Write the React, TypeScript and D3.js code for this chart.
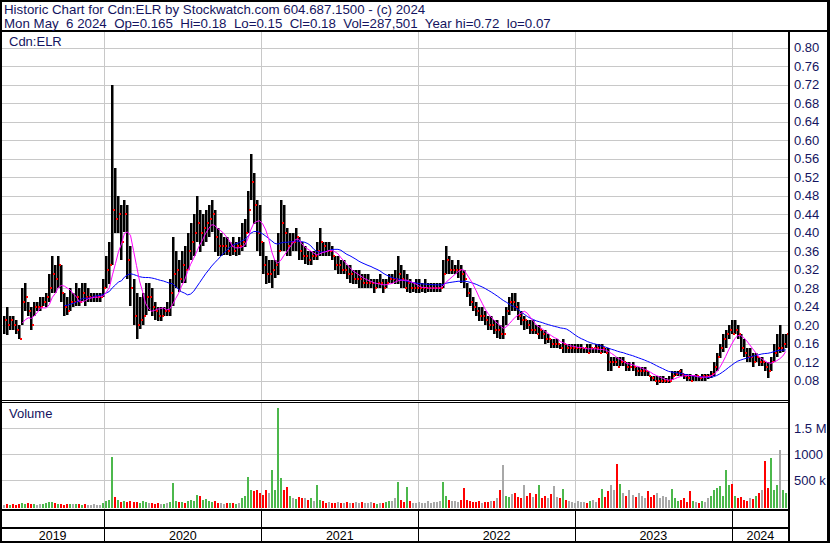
import React from "react";
import * as d3 from "d3";

const W = 830;
const H = 543;

const title = "Historic Chart for Cdn:ELR by Stockwatch.com 604.687.1500 - (c) 2024";
const quote = "Mon May  6 2024  Op=0.165  Hi=0.18  Lo=0.15  Cl=0.18  Vol=287,501  Year hi=0.72  lo=0.07";
const symbol = "Cdn:ELR";

// last trading day on the chart, bars are weekly going back from it
const lastDay = new Date(2024, 4, 6);

// weekly high / low / close, oldest first
const highs = [
  .22, .24, .22, .22, .21, .20, .28, .29, .25, .24,
  .25, .25, .26, .26, .27, .31, .35, .33, .35, .33,
  .27, .26, .28, .27, .29, .28, .29, .29, .28, .27,
  .27, .27, .27, .30, .35, .38, .72, .54, .48, .46,
  .47, .46, .37, .30, .27, .26, .27, .29, .29, .28,
  .25, .24, .24, .24, .25, .30, .39, .36, .34, .36,
  .37, .40, .42, .44, .48, .45, .44, .45, .46, .47,
  .45, .41, .40, .39, .39, .38, .39, .38, .39, .42,
  .43, .49, .57, .53, .47, .46, .38, .35, .34, .34,
  .34, .40, .47, .46, .41, .40, .40, .41, .39, .38,
  .37, .36, .36, .36, .38, .41, .38, .38, .38, .37,
  .35, .35, .34, .34, .33, .33, .32, .32, .32, .31,
  .31, .31, .30, .30, .30, .31, .30, .30, .31, .31,
  .32, .35, .33, .32, .31, .30, .29, .30, .30, .29,
  .30, .29, .29, .29, .29, .29, .34, .37, .35, .34,
  .33, .34, .33, .32, .29, .28, .26, .25, .24, .24,
  .23, .22, .22, .21, .21, .20, .22, .24, .26, .27,
  .27, .25, .23, .22, .21, .21, .21, .20, .20, .19,
  .19, .18, .17, .17, .17, .16, .17, .16, .16, .16,
  .16, .16, .16, .15, .16, .16, .15, .16, .16, .16,
  .15, .15, .13, .13, .13, .13, .13, .12, .12, .12,
  .11, .11, .11, .11, .10, .09, .09, .09, .09, .09,
  .085, .09, .10, .10, .10, .105, .095, .095, .095, .09,
  .095, .09, .095, .095, .095, .10, .12, .14, .16, .18,
  .19, .20, .21, .21, .20, .18, .17, .15, .15, .14,
  .14, .13, .13, .12, .12, .13, .16, .18, .20, .18,
  .18,
];

const lows = [
  .18, .18, .19, .19, .18, .17, .20, .23, .22, .19,
  .22, .23, .23, .24, .24, .25, .27, .27, .28, .25,
  .22, .22, .23, .24, .24, .24, .25, .24, .25, .25,
  .25, .25, .25, .26, .28, .29, .33, .40, .40, .34,
  .40, .30, .24, .20, .17, .19, .20, .22, .23, .22,
  .21, .21, .21, .22, .22, .22, .24, .28, .27, .29,
  .29, .32, .34, .35, .38, .36, .37, .38, .39, .40,
  .36, .35, .35, .35, .35, .35, .35, .35, .35, .36,
  .37, .40, .47, .42, .36, .35, .31, .29, .29, .28,
  .30, .31, .36, .36, .35, .35, .36, .36, .34, .34,
  .33, .33, .33, .34, .34, .35, .35, .35, .35, .34,
  .32, .31, .31, .31, .30, .29, .29, .29, .28, .28,
  .28, .28, .28, .27, .28, .28, .27, .28, .29, .29,
  .29, .29, .28, .28, .27, .27, .27, .27, .27, .27,
  .27, .27, .27, .27, .27, .27, .28, .31, .31, .31,
  .31, .30, .29, .28, .26, .24, .23, .22, .21, .21,
  .20, .19, .19, .18, .17, .17, .17, .20, .22, .23,
  .23, .21, .20, .19, .19, .18, .18, .18, .17, .17,
  .16, .16, .15, .15, .15, .15, .14, .14, .14, .14,
  .14, .14, .14, .14, .14, .14, .14, .14, .14, .14,
  .14, .10, .10, .11, .11, .11, .11, .10, .10, .10,
  .09, .09, .09, .09, .09, .08, .08, .07, .075, .075,
  .075, .075, .08, .09, .09, .09, .085, .08, .08, .08,
  .08, .08, .08, .08, .085, .085, .09, .10, .13, .14,
  .15, .17, .18, .18, .17, .14, .13, .12, .12, .11,
  .12, .11, .11, .10, .085, .10, .12, .13, .14, .14,
  .15,
];

const closes = [
  .21, .20, .21, .20, .19, .17, .25, .26, .23, .20,
  .24, .24, .24, .25, .26, .28, .31, .30, .33, .27,
  .24, .23, .25, .25, .26, .25, .27, .26, .26, .26,
  .26, .26, .26, .28, .32, .33, .45, .43, .44, .38,
  .44, .34, .28, .22, .20, .21, .22, .26, .26, .24,
  .23, .22, .22, .23, .23, .27, .31, .32, .30, .33,
  .32, .36, .38, .40, .42, .40, .41, .42, .43, .44,
  .39, .37, .37, .37, .36, .37, .36, .37, .37, .38,
  .40, .45, .51, .46, .40, .38, .33, .31, .31, .32,
  .33, .36, .42, .40, .37, .38, .38, .39, .36, .35,
  .35, .34, .35, .35, .36, .38, .37, .36, .36, .35,
  .33, .33, .32, .32, .31, .31, .30, .30, .30, .29,
  .29, .29, .29, .28, .29, .29, .28, .29, .30, .30,
  .30, .31, .30, .28, .29, .28, .28, .28, .28, .28,
  .28, .28, .28, .28, .28, .28, .31, .34, .32, .32,
  .32, .32, .31, .30, .27, .25, .24, .23, .22, .22,
  .21, .20, .20, .19, .19, .18, .18, .23, .25, .25,
  .24, .22, .21, .21, .20, .19, .19, .18, .19, .18,
  .17, .17, .16, .16, .16, .15, .16, .15, .15, .15,
  .15, .15, .15, .15, .14, .15, .15, .15, .14, .15,
  .14, .12, .12, .12, .11, .12, .12, .11, .11, .11,
  .10, .10, .10, .10, .09, .085, .08, .08, .08, .08,
  .08, .08, .09, .095, .10, .095, .09, .085, .08, .09,
  .09, .085, .09, .09, .09, .095, .11, .13, .15, .17,
  .18, .19, .18, .19, .18, .15, .14, .13, .13, .12,
  .13, .12, .12, .11, .10, .12, .14, .15, .15, .16,
  .18,
];

// biggest daily volume of each week, thousands of shares
const volumes = [
  20, 30, 15, 40, 25, 30, 60, 35, 50, 30,
  45, 25, 30, 40, 60, 80, 70, 50, 40, 30,
  25, 35, 45, 30, 40, 30, 25, 30, 20, 25,
  30, 20, 25, 60, 100, 120, 950, 180, 110, 80,
  90, 70, 100, 80, 70, 60, 90, 70, 50, 60,
  40, 50, 35, 40, 50, 80, 450, 90, 70, 80,
  60, 100, 120, 100, 210, 200, 110, 140, 90, 80,
  100, 60, 50, 40, 50, 60, 50, 40, 60, 150,
  200, 566, 300, 280, 300, 250, 220, 300, 260, 695,
  300, 1890, 540, 300, 370, 200, 150, 130, 180, 150,
  160, 120, 150, 100, 400, 120, 90, 60, 80, 60,
  50, 70, 60, 50, 80, 60, 50, 70, 60, 80,
  50, 60, 70, 50, 40, 60, 50, 70, 100, 90,
  150, 470, 120, 80, 370, 100, 60, 50, 70, 60,
  50, 90, 60, 80, 70, 100, 470, 200, 120, 100,
  90, 80, 120, 350, 110, 90, 80, 70, 90, 60,
  80, 70, 90, 100, 150, 300, 790, 200, 180, 230,
  260, 180, 150, 400, 200, 250, 180, 230, 400, 150,
  200, 160, 240, 390, 180, 150, 330, 120, 100, 80,
  60, 90, 70, 80, 60, 100, 120, 80, 150, 320,
  180, 280, 400, 300, 810, 430, 250, 200, 300, 220,
  180, 250, 200, 150, 280, 180, 220, 260, 150, 200,
  180, 120, 330, 150, 100, 120, 150, 80, 290, 100,
  80, 60, 90, 70, 150, 200, 300, 350, 380, 200,
  700, 400, 420, 200, 150, 180, 120, 100, 150, 130,
  200, 250, 300, 870, 350, 930, 300, 400, 1090, 300,
  250,
];

const priceTicks = [0.80, 0.76, 0.72, 0.68, 0.64, 0.60, 0.56, 0.52, 0.48, 0.44, 0.40, 0.36, 0.32, 0.28, 0.24, 0.20, 0.16, 0.12, 0.08];
const volTicks = [1500, 1000, 500];
const volTickLabels = ["1.5 M", "1000 k", "500 k"];
const years = ["2019", "2020", "2021", "2022", "2023", "2024"];

// moving average lengths in weeks
const fastLen = 7;
const slowLen = 21;

const font = "'Liberation Sans', Arial, sans-serif";
const ink = "#141460";
const grid = "#c8c8c8";

export default function App() {
  const left = 1;
  const right = 789;
  const top = 31;
  const priceBottom = 400;
  const volTop = 402;
  const volBottom = 509;
  const band = 527;
  const bottom = 542;

  const x = d3.scaleTime()
    .domain([new Date(2020, 0, 1), new Date(2024, 0, 1)])
    .range([104.3, 731.7]);
  const y = d3.scaleLinear().domain([0.08, 0.8]).range([380.5, 47.8]);
  const yv = d3.scaleLinear().domain([0, 1500]).range([506, 428.3]);

  const n = closes.length;
  const dates = closes.map((_, i) => d3.timeDay.offset(lastDay, -7 * (n - 1 - i)));

  const sma = (len: number) =>
    closes.map((_, i) => (i < len - 1 ? null : d3.mean(closes.slice(i - len + 1, i + 1)) as number));
  const fast = sma(fastLen);
  const slow = sma(slowLen);

  const line = d3.line<number | null>()
    .defined((d) => d != null)
    .x((_, i) => x(dates[i]))
    .y((d) => y(d as number));

  const yearStarts = years.slice(1).map((yr) => x(new Date(+yr, 0, 1)));
  const edges = [left, ...yearStarts, right];

  const volColor = (i: number) => {
    if (i === 0 || closes[i] === closes[i - 1]) return "#a8a8a8";
    return closes[i] > closes[i - 1] ? "#4cb84c" : "#ff0000";
  };

  return (
    <svg width={W} height={H} style={{ position: "absolute", left: 0, top: 0, background: "#fff" }}
      fontFamily={font}>
      <rect x={0} y={0} width={W} height={H} fill="#fff" />

      {/* grid */}
      <g stroke={grid} strokeWidth={1} shapeRendering="crispEdges">
        {priceTicks.map((t) => (
          <line key={"p" + t} x1={left} x2={right} y1={Math.round(y(t)) + 0.5} y2={Math.round(y(t)) + 0.5} />
        ))}
        {volTicks.map((t) => (
          <line key={"v" + t} x1={left} x2={right} y1={Math.round(yv(t)) + 0.5} y2={Math.round(yv(t)) + 0.5} />
        ))}
        {yearStarts.map((xx, i) => (
          <g key={"y" + i}>
            <line x1={Math.round(xx) + 0.5} x2={Math.round(xx) + 0.5} y1={top} y2={priceBottom} />
            <line x1={Math.round(xx) + 0.5} x2={Math.round(xx) + 0.5} y1={volTop} y2={volBottom} />
          </g>
        ))}
      </g>

      {/* volume */}
      <g shapeRendering="crispEdges">
        {volumes.map((v, i) => (
          <rect key={i} x={Math.round(x(dates[i])) - 1} width={2}
            y={yv(v)} height={508 - yv(v)} fill={volColor(i)} />
        ))}
      </g>

      {/* price bars */}
      <g>
        {closes.map((c, i) => {
          const xx = Math.round(x(dates[i]));
          return (
            <rect key={i} x={xx - 1} width={2.5} y={Math.round(y(highs[i]))}
              height={Math.max(1, Math.round(y(lows[i]) - y(highs[i])))} fill="#000" />
          );
        })}
      </g>
      <g shapeRendering="crispEdges">
        {closes.map((c, i) => {
          const xx = Math.round(x(dates[i]));
          return <rect key={"c" + i} x={xx + 1} width={2} y={Math.round(y(c)) - 1} height={2} fill="#ff0000" />;
        })}
      </g>

      <path d={line(slow) ?? ""} fill="none" stroke="#0000ff" strokeWidth={1} />
      <path d={line(fast) ?? ""} fill="none" stroke="#ff00ff" strokeWidth={1} />

      {/* frame */}
      <g stroke="#000" shapeRendering="crispEdges">
        <rect x={1} y={1} width={W - 3} height={H - 2} fill="none" strokeWidth={2} />
        <line x1={0} x2={W} y1={top} y2={top} strokeWidth={2} />
        <line x1={right} x2={right} y1={top} y2={H} strokeWidth={2} />
        <line x1={0} x2={right} y1={priceBottom + 0.5} y2={priceBottom + 0.5} strokeWidth={1} />
        <line x1={0} x2={right} y1={volTop + 0.5} y2={volTop + 0.5} strokeWidth={1} />
        <line x1={0} x2={right} y1={volBottom + 1} y2={volBottom + 1} strokeWidth={2} />
        <line x1={0} x2={right} y1={band + 0.5} y2={band + 0.5} strokeWidth={2} />
        {yearStarts.map((xx, i) => (
          <line key={i} x1={Math.round(xx) + 0.5} x2={Math.round(xx) + 0.5} y1={volBottom} y2={bottom} strokeWidth={1.5} />
        ))}
      </g>

      {/* text */}
      <g fill={ink} fontSize={13}>
        <text x={4} y={13.5} fontSize={13.3} xmlSpace="preserve" style={{ whiteSpace: "pre" }}>{title}</text>
        <text x={4} y={27.5} fontSize={13.3} xmlSpace="preserve" style={{ whiteSpace: "pre" }}>{quote}</text>
        <text x={9} y={46}>{symbol}</text>
        <text x={9} y={418}>Volume</text>
        {priceTicks.map((t) => (
          <text key={t} x={794} y={y(t)} dy="0.36em">{t.toFixed(2)}</text>
        ))}
        {volTicks.map((t, i) => (
          <text key={t} x={794} y={yv(t)} dy="0.36em">{volTickLabels[i]}</text>
        ))}
        {years.map((yr, i) => (
          <text key={yr} x={(edges[i] + edges[i + 1]) / 2} y={539.5} textAnchor="middle" fontSize={12.5} fill="#000">{yr}</text>
        ))}
      </g>
      <line x1={W - 1.5} x2={W - 1.5} y1={0} y2={H} stroke="#000" strokeWidth={3} shapeRendering="crispEdges" />
    </svg>
  );
}
